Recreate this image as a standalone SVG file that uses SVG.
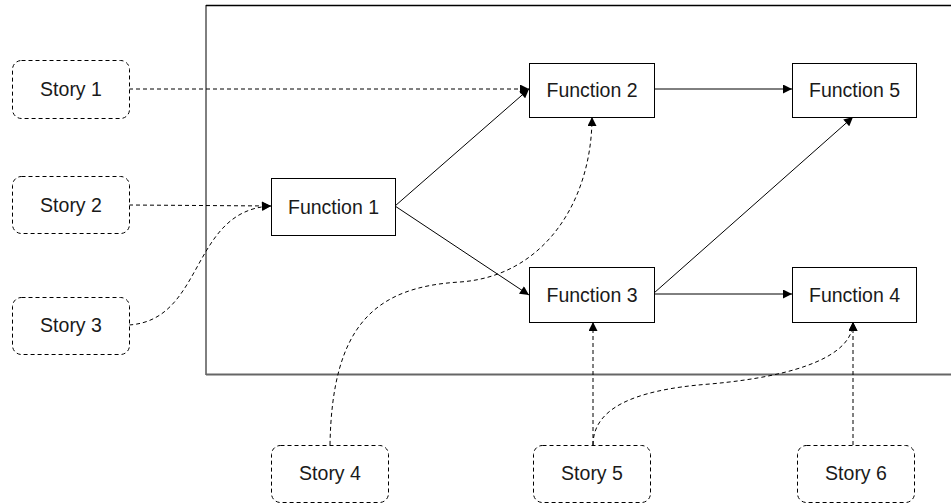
<svg xmlns="http://www.w3.org/2000/svg" width="951" height="504" viewBox="0 0 951 504">
<defs>
<marker id="ah" viewBox="0 0 10 10" refX="10" refY="5" markerWidth="10" markerHeight="9" markerUnits="userSpaceOnUse" orient="auto">
<path d="M0,0 L10,5 L0,10 z" fill="#000"/>
</marker>
<style>
.fn{fill:#fff;stroke:#000;stroke-width:1}
.st{fill:#fff;stroke:#000;stroke-width:1;stroke-dasharray:4,3}
.t{font-family:"Liberation Sans",Arial,sans-serif;font-size:19.5px;fill:#1a1a1a;text-anchor:middle;dominant-baseline:central}
.s{fill:none;stroke:#000;stroke-width:1;marker-end:url(#ah)}
.d{fill:none;stroke:#000;stroke-width:1;stroke-dasharray:4,3;marker-end:url(#ah)}
</style>
</defs>
<rect width="951" height="504" fill="#fff"/>
<g id="frame">
<line x1="206" y1="5.5" x2="951" y2="5.5" stroke="#000" stroke-width="1.5"/>
<line x1="206" y1="5" x2="206" y2="375" stroke="#000" stroke-width="1"/>
<line x1="206" y1="374.5" x2="951" y2="374.5" stroke="#666" stroke-width="2"/>
</g>
<g id="connectors">
<path class="d" d="M129,89 L529,89"/>
<path class="d" d="M129,205 L271,206"/>
<path class="d" d="M129,325 C205,320 190,210 271,206"/>
<path class="s" d="M395,206 L529,89"/>
<path class="s" d="M395,206 L529,295"/>
<path class="s" d="M654,89 L792,89"/>
<path class="s" d="M654,293 L853,117"/>
<path class="s" d="M654,294 L792,294"/>
<path class="d" d="M330,445 C332,325 375,287 460,282 C545,276 592,200 592,117"/>
<path class="d" d="M593,445 L593,322"/>
<path class="d" d="M593,445 C593,410 630,390 710,384 C800,376 853,355 853,322"/>
<path class="d" d="M853,445 L853,322"/>
</g>
<g id="function1"><rect class="fn" x="271.5" y="178.5" width="124" height="57"/><text class="t" x="333.5" y="207">Function 1</text></g>
<g id="function2"><rect class="fn" x="529.5" y="63.5" width="125" height="54"/><text class="t" x="592" y="90">Function 2</text></g>
<g id="function3"><rect class="fn" x="529.5" y="267.5" width="125" height="55"/><text class="t" x="592" y="295">Function 3</text></g>
<g id="function4"><rect class="fn" x="792.5" y="267.5" width="124" height="55"/><text class="t" x="854.5" y="295">Function 4</text></g>
<g id="function5"><rect class="fn" x="792.5" y="63.5" width="124" height="54"/><text class="t" x="854.5" y="90">Function 5</text></g>
<g id="story1"><rect class="st" x="12.5" y="60.5" width="117" height="58" rx="9"/><text class="t" x="71" y="89">Story 1</text></g>
<g id="story2"><rect class="st" x="12.5" y="176.5" width="117" height="57" rx="9"/><text class="t" x="71" y="205">Story 2</text></g>
<g id="story3"><rect class="st" x="12.5" y="297.5" width="117" height="57" rx="9"/><text class="t" x="71" y="325">Story 3</text></g>
<g id="story4"><rect class="st" x="271.5" y="445.5" width="117" height="57" rx="9"/><text class="t" x="330" y="473">Story 4</text></g>
<g id="story5"><rect class="st" x="533.5" y="445.5" width="117" height="57" rx="9"/><text class="t" x="592" y="473">Story 5</text></g>
<g id="story6"><rect class="st" x="797.5" y="445.5" width="117" height="57" rx="9"/><text class="t" x="856" y="473">Story 6</text></g>
</svg>
